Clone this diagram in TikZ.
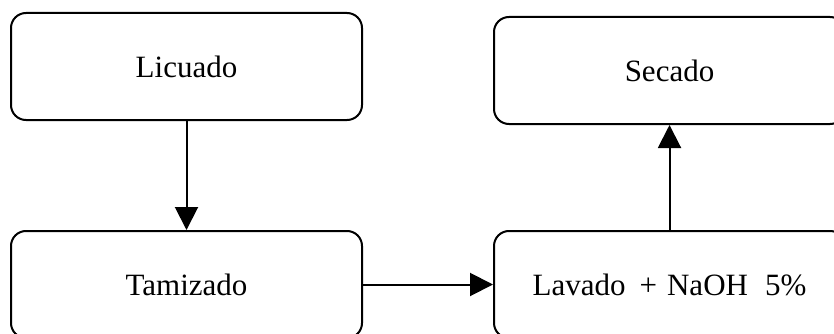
\documentclass[tikz,border=0pt]{standalone}
\usepackage{fontspec}
\setmainfont{Liberation Serif}
\usetikzlibrary{arrows.meta}
\begin{document}
\begin{tikzpicture}[x=1pt,y=-1pt,
  stage/.style={draw, line width=2pt, rounded corners=15pt,
    minimum width=351pt, minimum height=107pt, inner sep=0pt,
    font=\fontsize{31}{36}\selectfont},
  flow/.style={line width=2pt, -{Triangle[length=23pt,width=23pt]}}]
\useasboundingbox (0,0) rectangle (834,334);
\fill[white] (0,0) rectangle (834,334);
\clip (0,0) rectangle (834,334);
\node[stage] (licuado) at (186.5,66.5) {Licuado};
\node[stage] (tamizado) at (186.5,284.5) {Tamizado};
\node[stage] (lavado) at (669.5,284.5) {Lavado\hspace{14pt}+\hspace{10pt}NaOH\hspace{17pt}5\%};
\node[stage] (secado) at (669.5,70.5) {Secado};
\draw[flow] (licuado.south) -- (tamizado.north);
\draw[flow] (tamizado.east) -- (lavado.west);
\draw[flow] (lavado.north) -- (secado.south);
\end{tikzpicture}
\end{document}
